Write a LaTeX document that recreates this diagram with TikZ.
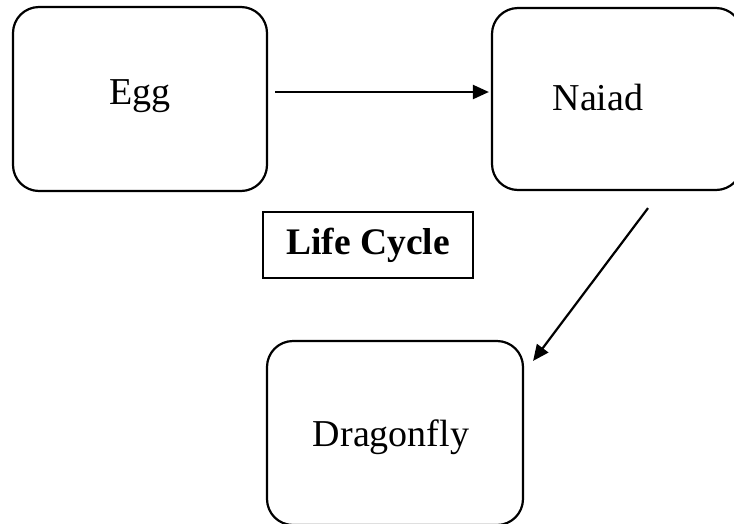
\documentclass[tikz,border=0pt]{standalone}
\usepackage{fontspec}
\setmainfont{Liberation Serif}
\usetikzlibrary{arrows.meta}
\begin{document}
\begin{tikzpicture}[x=1pt,y=-1pt,
  stagebox/.style={draw=black, line width=2.2pt, rounded corners=26pt, inner sep=0pt},
  stagetext/.style={font=\fontsize{38}{42}\selectfont, inner sep=0pt},
  titlebox/.style={draw=black, line width=2pt, minimum width=210pt, minimum height=66pt,
    font=\fontsize{37.5}{42}\selectfont\bfseries, inner sep=0pt},
  flow/.style={line width=2.2pt, -{Triangle[length=16pt,width=14pt]}}]
  \useasboundingbox (0,0) rectangle (734,523);
  % the three stages of the cycle
  \node[stagebox, minimum width=254pt, minimum height=184pt] (egg) at (140,99) {};
  \node[stagebox, minimum width=250pt, minimum height=182pt] (naiad) at (617,99) {};
  \node[stagebox, minimum width=256pt, minimum height=184pt] (fly) at (395,433) {};
  \node[stagetext] (eggtxt) at (140,96) {Egg};
  \node[stagetext] (naiadtxt) at (598,97) {Naiad};
  \node[stagetext] (flytxt) at (391,437) {Dragonfly};
  % caption box
  \node[titlebox] (title) at (368,245) {Life Cycle};
  % arrows between stages
  \draw[flow] ([shift={(7pt,7pt)}]egg.east) -- ([shift={(-2pt,7pt)}]naiad.west);
  \draw[flow] ([shift={(31pt,-17pt)}]naiad.south) -- ([shift={(9pt,-21pt)}]fly.north east);
\end{tikzpicture}
\end{document}
